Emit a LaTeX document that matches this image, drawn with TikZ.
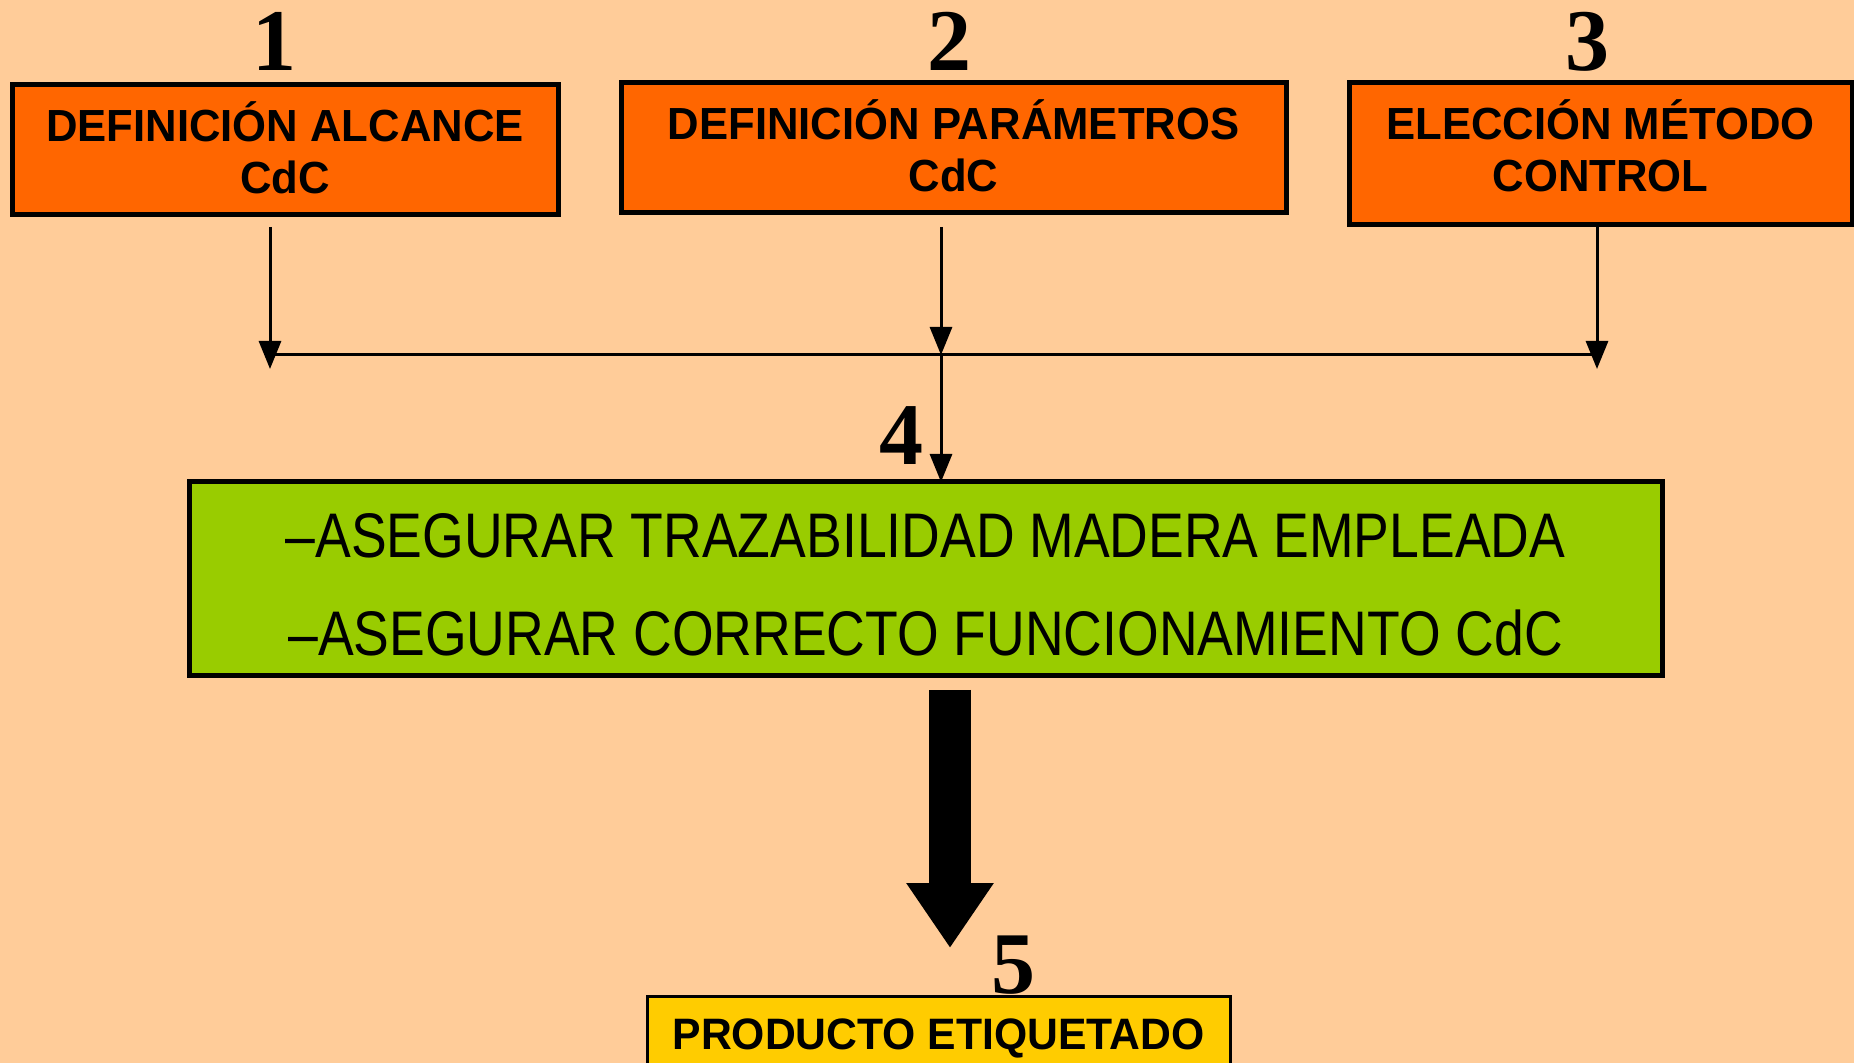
\documentclass[tikz,border=0pt]{standalone}
\usepackage{fontspec}
\setmainfont{Liberation Sans}
\newfontfamily\boxfont[FakeStretch=0.97]{Liberation Sans Bold}
\newfontfamily\greenfont[FakeStretch=0.85]{Liberation Sans}
\newfontfamily\numfont{Liberation Serif Bold}
\usetikzlibrary{arrows.meta}
\definecolor{bgpeach}{HTML}{FFCC99}
\definecolor{boxorange}{HTML}{FF6600}
\definecolor{boxgreen}{HTML}{99CC00}
\definecolor{boxyellow}{HTML}{FFCC00}
\begin{document}
\begin{tikzpicture}[x=0.5pt,y=-0.5pt,
  topbox/.style={draw=black, line width=2.5pt, fill=boxorange, inner sep=0pt},
  boxtext/.style={align=center, font=\boxfont\fontsize{22.5}{26}\selectfont, inner sep=0pt},
  greenbox/.style={draw=black, line width=2.5pt, fill=boxgreen, inner sep=0pt},
  greentext/.style={align=center, font=\greenfont\fontsize{31.5}{49}\selectfont, inner sep=0pt},
  yellowbox/.style={draw=black, line width=1.5pt, fill=boxyellow, align=center,
    font=\boxfont\fontsize{22}{26}\selectfont, inner sep=0pt},
  numlabel/.style={font=\numfont\fontsize{44}{44}\selectfont, anchor=base, inner sep=0pt},
  conn/.style={line width=1.5pt},
  conntip/.style={conn, -{Triangle[width=11pt,length=14pt]}},
  bigarrow/.style={line width=21pt, -{Triangle[width=41.5pt,length=32.5pt]}}
]
\fill[bgpeach] (0,0) rectangle (1854,1063);
\useasboundingbox (0,0) rectangle (1854,1063);
\clip (0,0) rectangle (1854,1063);

% numbers
\node[numlabel] (n1) at (274,71) {1};
\node[numlabel] (n2) at (949,71) {2};
\node[numlabel] (n3) at (1587,71) {3};
\node[numlabel] (n4) at (901,465) {4};
\node[numlabel] (n5) at (1013,993) {5};

% top boxes
\node[topbox, minimum width=273pt, minimum height=65pt] (b1) at (285,150) {};
\node[boxtext] (b1t) at (285,148) {DEFINICIÓN ALCANCE\\CdC};
\node[topbox, minimum width=332.5pt, minimum height=65pt] (b2) at (953.5,148) {};
\node[boxtext] (b2t) at (953.5,146) {DEFINICIÓN PARÁMETROS\\CdC};
\node[topbox, minimum width=251.5pt, minimum height=71pt] (b3) at (1600.5,154) {};
\node[boxtext] (b3t) at (1600.5,146) {ELECCIÓN MÉTODO\\CONTROL};

% green box
\node[greenbox, minimum width=736.5pt, minimum height=97pt] (b4) at (925.5,579) {};
\node[greentext] (b4t) at (925.5,585)
  {–ASEGURAR TRAZABILIDAD MADERA EMPLEADA\\–ASEGURAR CORRECTO FUNCIONAMIENTO CdC};

% yellow box
\node[yellowbox, minimum width=291.5pt, minimum height=42pt] (b5) at (938.5,1038)
  {PRODUCTO ETIQUETADO};

% connector points
\coordinate (s1) at (270,227);
\coordinate (s2) at (941,227);
\coordinate (s3) at (1597,225);
\coordinate (t1) at (270,369);
\coordinate (t2) at (941,355);
\coordinate (t3) at (1597,369);
\coordinate (h1) at (270,355);
\coordinate (h3) at (1597,355);
\coordinate (m4) at (941,482);

\draw[conntip] (s1) -- (t1);
\draw[conntip] (s2) -- (t2);
\draw[conntip] (s3) -- (t3);
\draw[conn] (h1) -- (h3);
\draw[conntip] (t2) -- (m4);

% big arrow
\coordinate (ba1) at (950,690);
\coordinate (ba2) at (950,948);
\draw[bigarrow] (ba1) -- (ba2);
\end{tikzpicture}
\end{document}
